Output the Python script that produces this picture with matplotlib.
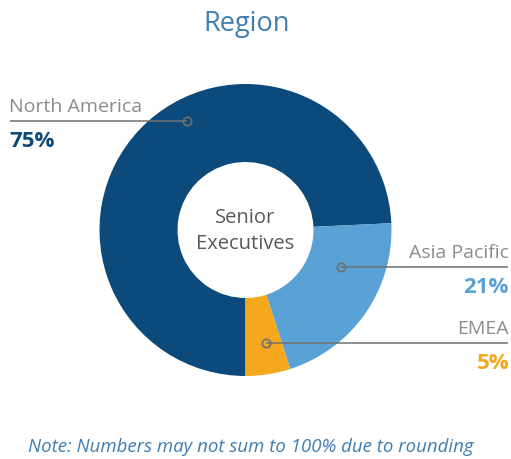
import numpy as np
import matplotlib
matplotlib.use("Agg")
import matplotlib.pyplot as plt

plt.rcParams['font.family'] = ['Open Sans', 'DejaVu Sans']

# Доли регионов (подписи округлены, поэтому сумма 101%)
regions = ['North America', 'Asia Pacific', 'EMEA']
shares = [75, 21, 5]
colors = ['#0B4A7B', '#5AA2D6', '#F5A81D']

W, H = 511, 460
fig = plt.figure(figsize=(W / 100, H / 100), dpi=100)
ax = fig.add_axes([0, 0, 1, 1])

cx, cy = 245.5, H - 231
R = 146
wedges, _ = ax.pie(shares, colors=colors, startangle=270, counterclock=False,
                   center=(cx, cy), radius=R, frame=True,
                   wedgeprops=dict(width=78, linewidth=0))
ax.set_xlim(0, W)
ax.set_ylim(0, H)
ax.set_aspect('equal')
ax.axis('off')

# Заголовок и текст в центре
ax.text(247, H - 24, 'Region', ha='center', va='center', fontsize=19.5, color='#3E7EB2')
ax.text(cx, cy, 'Senior\nExecutives', ha='center', va='center', fontsize=14.5,
        color='#58585A', linespacing=1.4)

# Подписи с выносными линиями: точка на кольце и сторона подписи
gray = '#8C8C8C'
line_gray = '#707070'
callouts = [
    dict(pt=(187, 122), side='left'),
    dict(pt=(341, 268), side='right'),
    dict(pt=(266, 344), side='right'),
]
for name, val, col, c in zip(regions, shares, colors, callouts):
    px, py = c['pt']
    py = H - py
    if c['side'] == 'left':
        x0, x1, tx, ha = 10, px, 9, 'left'
    else:
        x0, x1, tx, ha = px, 508, 509, 'right'
    ax.plot([x0, x1], [py, py], color=line_gray, lw=1.1, solid_capstyle='butt')
    ax.plot(px, py, 'o', ms=6, mfc='none', mec=line_gray, mew=1.2)
    ax.text(tx, py + 6, name, ha=ha, va='bottom', fontsize=14, color=gray)
    ax.text(tx, py - 9, f'{val}%', ha=ha, va='top', fontsize=16,
            fontweight='bold', color=col)

ax.text(251, H - 447, 'Note: Numbers may not sum to 100% due to rounding',
        ha='center', va='center', fontsize=13.4, style='italic', color='#3E7EB2')

fig.savefig('out.png', dpi=100)
